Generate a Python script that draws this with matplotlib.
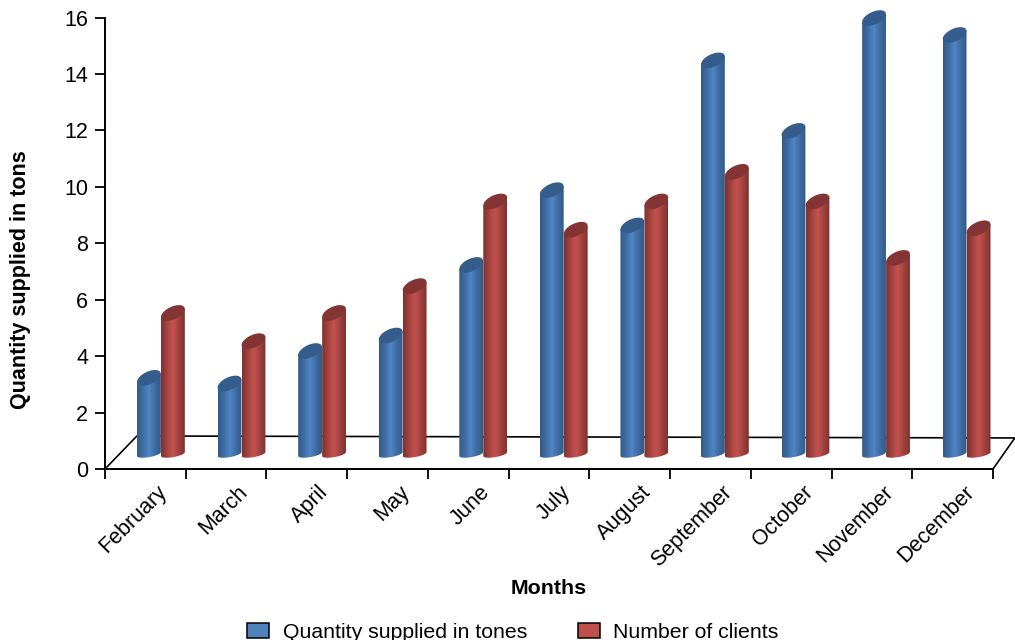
import numpy as np
from matplotlib import pyplot as plt
from matplotlib.colors import LinearSegmentedColormap
from matplotlib.patches import Patch, PathPatch, Polygon
from matplotlib.path import Path

plt.rcParams['font.family'] = ['Liberation Sans', 'DejaVu Sans']

months = ['February', 'March', 'April', 'May', 'June', 'July', 'August',
          'September', 'October', 'November', 'December']
quantity = [3.0, 2.8, 3.95, 4.5, 7.0, 9.65, 8.4, 14.25, 11.75, 15.75, 15.15]
clients = [5.3, 4.3, 5.3, 6.25, 9.25, 8.25, 9.25, 10.3, 9.25, 7.25, 8.3]
yticks = [0, 2, 4, 6, 8, 10, 12, 14, 16]
series_names = ['Quantity supplied in tones', 'Number of clients']

fig = plt.figure(figsize=(10.15, 6.4), dpi=100)
ax = fig.add_axes([105 / 1015, 1 - 469 / 640, 888 / 1015, 451.5 / 640])
ax.set_xlim(0, 11)
ax.set_ylim(0, 16)

blue_map = LinearSegmentedColormap.from_list('b', ['#335a86', '#3f6ea6', '#5085c4', '#3f6ca2', '#345b88'])
red_map = LinearSegmentedColormap.from_list('r', ['#7d312f', '#a44441', '#c5524f', '#a14240', '#7d312f'])
bar_w = 0.295
cap_dy = 0.14   # tilt of the top ellipse
cap_h = 0.24
base = 0.53
grad = np.linspace(0, 1, 64).reshape(1, -1)


def cylinder(x0, value, cmap, cap_color):
    # value is read at the left edge of the top ellipse
    t = np.linspace(0, 2 * np.pi, 80)
    xc = x0 + bar_w / 2
    top = value + cap_dy + 0.09
    cap_x = xc + bar_w / 2 * np.cos(t)
    cap_y = top + cap_dy * np.cos(t) + cap_h * np.sin(t)

    # body outline: down the left side, round the bottom, up the right side
    s = np.linspace(np.pi, 2 * np.pi, 40)
    low_x = xc + bar_w / 2 * np.cos(s)
    low_y = base + 0.07 * np.cos(s) + 0.11 * np.sin(s)
    body = np.column_stack([
        np.r_[xc - bar_w / 2, low_x, xc + bar_w / 2],
        np.r_[top - cap_dy, low_y, top + cap_dy]])

    im = ax.imshow(grad, extent=(x0, x0 + bar_w, base - 0.3, top + 0.3), cmap=cmap,
                   aspect='auto', zorder=3, interpolation='bilinear')
    clip = PathPatch(Path(body, closed=False), transform=ax.transData, fc='none', ec='none')
    ax.add_patch(clip)
    im.set_clip_path(clip)
    # the tallest bar pokes out of the axes box
    im.set_clip_box(fig.bbox)
    ax.add_patch(Polygon(np.column_stack([cap_x, cap_y]), closed=True, fc=cap_color, ec='none',
                         zorder=3.5, clip_on=False))


for i in range(len(months)):
    cylinder(i * 0.998 + 0.397, quantity[i], blue_map, '#355d8b')
    cylinder(i * 0.998 + 0.694, clients[i], red_map, '#843533')

ax.set_xlim(0, 11)
ax.set_ylim(0, 16)

# floor of the 3d box
ax.plot([0, 0.395, 11.27, 11], [0, 1.17, 1.1, 0], color='black', lw=1.2, clip_on=False, zorder=1)

for side in ['top', 'right']:
    ax.spines[side].set_visible(False)
for side in ['left', 'bottom']:
    ax.spines[side].set_linewidth(1.4)

ax.set_yticks(yticks)
ax.set_xticks(range(12))
ax.set_xticklabels([])
ax.set_xticks(np.arange(11) + 0.64, labels=months, minor=True)
ax.tick_params(axis='x', which='major', length=7, width=1.3)
ax.tick_params(axis='x', which='minor', length=0, pad=9, labelsize=15.5)
ax.tick_params(axis='y', length=7, width=1.3, labelsize=15.5, pad=5)
for lab in ax.get_xticklabels(minor=True):
    lab.set_rotation(45)
    lab.set_ha('right')
    lab.set_rotation_mode('anchor')

ax.set_xlabel('Months', fontsize=15.4, fontweight='bold', va='center')
ax.xaxis.set_label_coords(0.5, -0.265)
ax.set_ylabel('Quantity supplied in tons', fontsize=15.5, fontweight='bold', va='center')
ax.yaxis.set_label_coords(-0.095, 0.42)

handles = [Patch(fc='#4f81bd', ec='black', lw=1.1), Patch(fc='#c0504d', ec='black', lw=1.1)]
fig.legend(handles, series_names, ncol=2, fontsize=15.3, frameon=False, loc='lower center',
           bbox_to_anchor=(513 / 1015, -0.033), handlelength=1.05, handleheight=0.7,
           handletextpad=0.62, columnspacing=2.4)

fig.savefig('out.png', dpi=100)
